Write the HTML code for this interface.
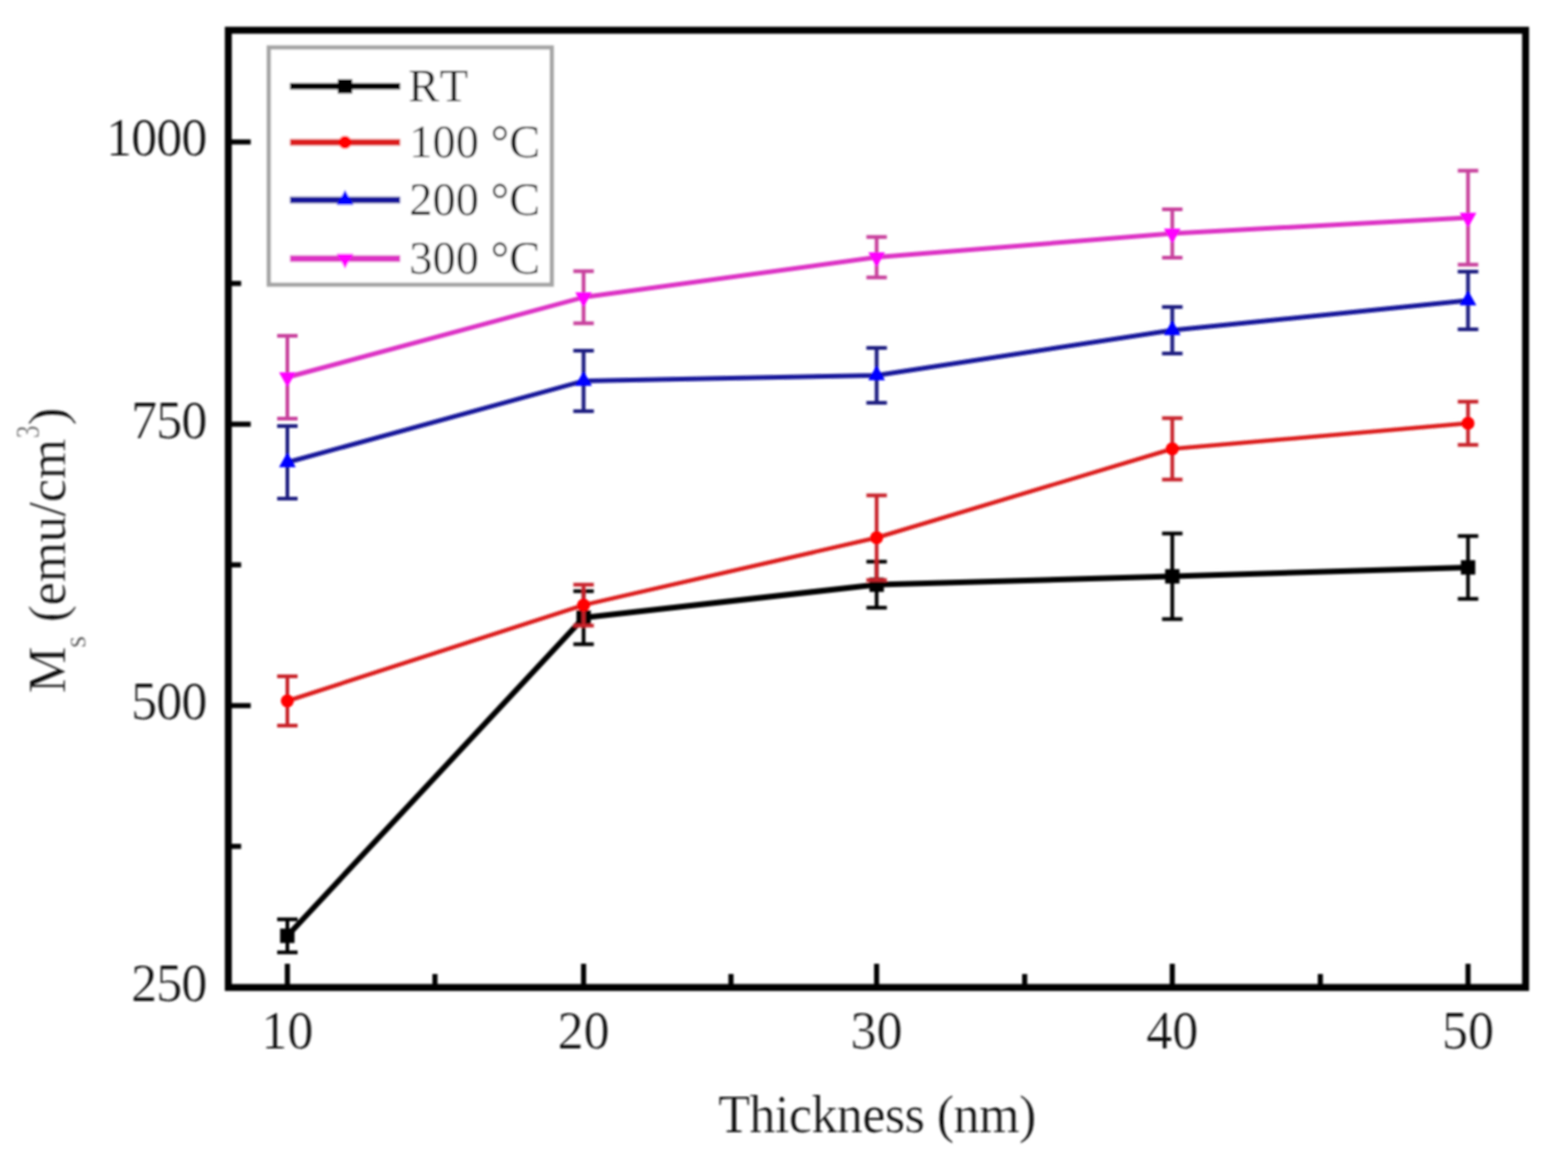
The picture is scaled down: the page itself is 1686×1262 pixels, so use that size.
<!DOCTYPE html>
<html><head><meta charset="utf-8"><style>
html,body{margin:0;padding:0;background:#fff;}
svg{display:block;}
text{font-family:"Liberation Serif","Times New Roman",serif;fill:#111;stroke:#fff;stroke-width:0.2px;}
.tk{font-size:56px;}
.lg{font-size:50px;}
.ti{font-size:56px;}
</style></head><body>
<svg width="1686" height="1262" viewBox="0 0 1686 1262">
<defs><filter id="soft" filterUnits="userSpaceOnUse" x="0" y="0" width="1686" height="1262"><feGaussianBlur stdDeviation="1"/></filter></defs>
<rect width="1686" height="1262" fill="#fff"/>
<g filter="url(#soft)">
<rect x="245.5" y="32.5" width="1394.9" height="1029.0" fill="none" stroke="#000" stroke-width="7.5" stroke-linejoin="miter"/>
<line x1="309" y1="1061.5" x2="309" y2="1036" stroke="#000" stroke-width="5.5"/>
<line x1="627.5" y1="1061.5" x2="627.5" y2="1036" stroke="#000" stroke-width="5.5"/>
<line x1="942.6" y1="1061.5" x2="942.6" y2="1036" stroke="#000" stroke-width="5.5"/>
<line x1="1260.5" y1="1061.5" x2="1260.5" y2="1036" stroke="#000" stroke-width="5.5"/>
<line x1="1578.5" y1="1061.5" x2="1578.5" y2="1036" stroke="#000" stroke-width="5.5"/>
<line x1="467.7" y1="1061.5" x2="467.7" y2="1047" stroke="#000" stroke-width="5.5"/>
<line x1="786" y1="1061.5" x2="786" y2="1047" stroke="#000" stroke-width="5.5"/>
<line x1="1101.8" y1="1061.5" x2="1101.8" y2="1047" stroke="#000" stroke-width="5.5"/>
<line x1="1419.7" y1="1061.5" x2="1419.7" y2="1047" stroke="#000" stroke-width="5.5"/>
<line x1="245.5" y1="152.6" x2="269.6" y2="152.6" stroke="#000" stroke-width="5.5"/>
<line x1="245.5" y1="456" x2="269.6" y2="456" stroke="#000" stroke-width="5.5"/>
<line x1="245.5" y1="758.5" x2="269.6" y2="758.5" stroke="#000" stroke-width="5.5"/>
<line x1="245.5" y1="304.7" x2="259.3" y2="304.7" stroke="#000" stroke-width="5.5"/>
<line x1="245.5" y1="607.2" x2="259.3" y2="607.2" stroke="#000" stroke-width="5.5"/>
<line x1="245.5" y1="909.8" x2="259.3" y2="909.8" stroke="#000" stroke-width="5.5"/>
<polyline points="309.0,1006.0 627.5,664.0 942.6,628.5 1260.5,619.5 1578.5,610.0" fill="none" stroke="#000000" stroke-width="6" stroke-linejoin="round"/>
<path d="M309.0,988.3V1023.7M298.0,988.3H320.0M298.0,1023.7H320.0" stroke="#000000" stroke-width="4" fill="none"/>
<path d="M627.5,635.5V692.5M616.5,635.5H638.5M616.5,692.5H638.5" stroke="#000000" stroke-width="4" fill="none"/>
<path d="M942.6,603.8V653.2M931.6,603.8H953.6M931.6,653.2H953.6" stroke="#000000" stroke-width="4" fill="none"/>
<path d="M1260.5,573.5V665.5M1249.5,573.5H1271.5M1249.5,665.5H1271.5" stroke="#000000" stroke-width="4" fill="none"/>
<path d="M1578.5,576.3V643.7M1567.5,576.3H1589.5M1567.5,643.7H1589.5" stroke="#000000" stroke-width="4" fill="none"/>
<rect x="301.2" y="998.2" width="15.5" height="15.5" fill="#000000"/>
<rect x="619.8" y="656.2" width="15.5" height="15.5" fill="#000000"/>
<rect x="934.9" y="620.8" width="15.5" height="15.5" fill="#000000"/>
<rect x="1252.8" y="611.8" width="15.5" height="15.5" fill="#000000"/>
<rect x="1570.8" y="602.2" width="15.5" height="15.5" fill="#000000"/>
<polyline points="309.0,753.5 627.5,650.4 942.6,578.0 1260.5,482.5 1578.5,455.0" fill="none" stroke="#dc1c1c" stroke-width="4.5" stroke-linejoin="round"/>
<path d="M309.0,727.0V780.0M298.0,727.0H320.0M298.0,780.0H320.0" stroke="#c8202a" stroke-width="4" fill="none"/>
<path d="M627.5,628.4V672.4M616.5,628.4H638.5M616.5,672.4H638.5" stroke="#c8202a" stroke-width="4" fill="none"/>
<path d="M942.6,532.5V623.5M931.6,532.5H953.6M931.6,623.5H953.6" stroke="#c8202a" stroke-width="4" fill="none"/>
<path d="M1260.5,449.5V515.5M1249.5,449.5H1271.5M1249.5,515.5H1271.5" stroke="#c8202a" stroke-width="4" fill="none"/>
<path d="M1578.5,431.7V478.3M1567.5,431.7H1589.5M1567.5,478.3H1589.5" stroke="#c8202a" stroke-width="4" fill="none"/>
<circle cx="309.0" cy="753.5" r="7.00" fill="#ff0000"/>
<circle cx="627.5" cy="650.4" r="7.00" fill="#ff0000"/>
<circle cx="942.6" cy="578.0" r="7.00" fill="#ff0000"/>
<circle cx="1260.5" cy="482.5" r="7.00" fill="#ff0000"/>
<circle cx="1578.5" cy="455.0" r="7.00" fill="#ff0000"/>
<polyline points="309.0,497.0 627.5,409.5 942.6,403.5 1260.5,355.0 1578.5,323.0" fill="none" stroke="#14149a" stroke-width="5" stroke-linejoin="round"/>
<path d="M309.0,458.0V536.0M298.0,458.0H320.0M298.0,536.0H320.0" stroke="#1a1a80" stroke-width="4" fill="none"/>
<path d="M627.5,377.1V441.9M616.5,377.1H638.5M616.5,441.9H638.5" stroke="#1a1a80" stroke-width="4" fill="none"/>
<path d="M942.6,374.1V432.9M931.6,374.1H953.6M931.6,432.9H953.6" stroke="#1a1a80" stroke-width="4" fill="none"/>
<path d="M1260.5,330.1V379.9M1249.5,330.1H1271.5M1249.5,379.9H1271.5" stroke="#1a1a80" stroke-width="4" fill="none"/>
<path d="M1578.5,292.0V354.0M1567.5,292.0H1589.5M1567.5,354.0H1589.5" stroke="#1a1a80" stroke-width="4" fill="none"/>
<polygon points="300.0,502.3 318.0,502.3 309.0,486.3" fill="#0000ff"/>
<polygon points="618.5,414.8 636.5,414.8 627.5,398.8" fill="#0000ff"/>
<polygon points="933.6,408.8 951.6,408.8 942.6,392.8" fill="#0000ff"/>
<polygon points="1251.5,360.3 1269.5,360.3 1260.5,344.3" fill="#0000ff"/>
<polygon points="1569.5,328.3 1587.5,328.3 1578.5,312.3" fill="#0000ff"/>
<polyline points="309.0,405.5 627.5,319.5 942.6,276.5 1260.5,251.0 1578.5,234.0" fill="none" stroke="#dc30c4" stroke-width="5" stroke-linejoin="round"/>
<path d="M309.0,361.0V450.0M298.0,361.0H320.0M298.0,450.0H320.0" stroke="#c8409c" stroke-width="4" fill="none"/>
<path d="M627.5,291.5V347.5M616.5,291.5H638.5M616.5,347.5H638.5" stroke="#c8409c" stroke-width="4" fill="none"/>
<path d="M942.6,254.8V298.2M931.6,254.8H953.6M931.6,298.2H953.6" stroke="#c8409c" stroke-width="4" fill="none"/>
<path d="M1260.5,225.0V277.0M1249.5,225.0H1271.5M1249.5,277.0H1271.5" stroke="#c8409c" stroke-width="4" fill="none"/>
<path d="M1578.5,183.5V284.5M1567.5,183.5H1589.5M1567.5,284.5H1589.5" stroke="#c8409c" stroke-width="4" fill="none"/>
<polygon points="300.0,400.2 318.0,400.2 309.0,416.2" fill="#ff00ff"/>
<polygon points="618.5,314.2 636.5,314.2 627.5,330.2" fill="#ff00ff"/>
<polygon points="933.6,271.2 951.6,271.2 942.6,287.2" fill="#ff00ff"/>
<polygon points="1251.5,245.7 1269.5,245.7 1260.5,261.7" fill="#ff00ff"/>
<polygon points="1569.5,228.7 1587.5,228.7 1578.5,244.7" fill="#ff00ff"/>
<rect x="289" y="51" width="304.3" height="255" fill="#fff" stroke="#a4a4a4" stroke-width="4.5"/>
<line x1="311.8" y1="92.8" x2="430.3" y2="92.8" stroke="#000000" stroke-width="7"/>
<rect x="363.2" y="85.0" width="15.5" height="15.5" fill="#000000"/>
<text x="439" y="108.8" class="lg" letter-spacing="3.5">RT</text>
<line x1="311.8" y1="153" x2="430.3" y2="153" stroke="#dc1c1c" stroke-width="7"/>
<circle cx="371.0" cy="153.0" r="7.00" fill="#ff0000"/>
<text x="440" y="169.0" class="lg">100 °C</text>
<line x1="311.8" y1="215" x2="430.3" y2="215" stroke="#14149a" stroke-width="7"/>
<polygon points="362.0,220.3 380.0,220.3 371.0,204.3" fill="#0000ff"/>
<text x="440" y="231.0" class="lg">200 °C</text>
<line x1="311.8" y1="278" x2="430.3" y2="278" stroke="#dc30c4" stroke-width="7"/>
<polygon points="362.0,272.7 380.0,272.7 371.0,288.7" fill="#ff00ff"/>
<text x="440" y="294.0" class="lg">300 °C</text>
<text x="222" y="167.1" class="tk" text-anchor="end" letter-spacing="-1">1000</text>
<text x="222" y="470.5" class="tk" text-anchor="end" letter-spacing="-1">750</text>
<text x="222" y="773.0" class="tk" text-anchor="end" letter-spacing="-1">500</text>
<text x="222" y="1076.0" class="tk" text-anchor="end" letter-spacing="-1">250</text>
<text x="309" y="1127" class="tk" text-anchor="middle">10</text>
<text x="627.5" y="1127" class="tk" text-anchor="middle">20</text>
<text x="942.6" y="1127" class="tk" text-anchor="middle">30</text>
<text x="1260.5" y="1127" class="tk" text-anchor="middle">40</text>
<text x="1578.5" y="1127" class="tk" text-anchor="middle">50</text>
<text x="943" y="1216.6" class="ti" text-anchor="middle" letter-spacing="-0.6">Thickness (nm)</text>
<text transform="translate(70,745) rotate(-90)" font-size="56" >M</text>
<text transform="translate(92,696.5) rotate(-90)" font-size="33" style="stroke-width:0.3px;fill:#444">s</text>
<text transform="translate(70,669) rotate(-90)" font-size="56" letter-spacing="-0.3">(emu/cm</text>
<text transform="translate(42,471) rotate(-90) scale(0.75,1)" font-size="36" style="stroke-width:0.3px;fill:#555">3</text>
<text transform="translate(70,457) rotate(-90)" font-size="56" >)</text>
</g>
</svg>
</body></html>
